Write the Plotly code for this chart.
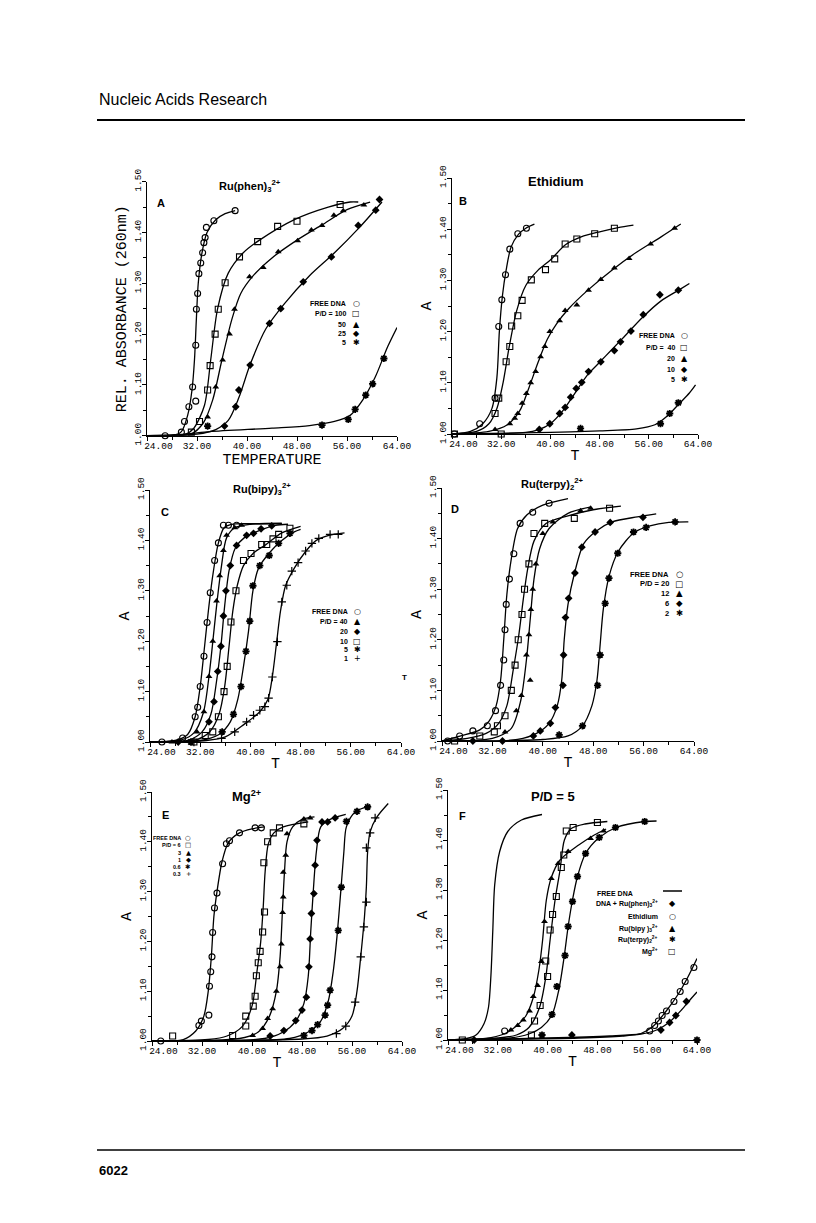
import plotly.graph_objects as go

# ---------------- DATA (temperature T in deg C, relative absorbance A) ----------------
# Panel A: Ru(phen)3 2+
A_FREE_T = [26.9, 29.5, 30.0, 30.7, 31.3, 31.8, 31.8, 31.9, 32.1, 32.3, 32.6, 32.9, 33.1, 33.3, 33.5, 34.7, 38.1]
A_FREE_A = [1.000, 1.007, 1.028, 1.057, 1.096, 1.068, 1.178, 1.249, 1.280, 1.319, 1.340, 1.360, 1.380, 1.390, 1.410, 1.423, 1.443]
A_FREE_FT = [24, 28, 29.5, 30.5, 31.2, 31.6, 31.9, 32.2, 32.8, 33.6, 35, 36.5, 38.1]
A_FREE_FA = [1.0, 1.0, 1.008, 1.04, 1.09, 1.15, 1.23, 1.30, 1.36, 1.40, 1.425, 1.437, 1.443]

A_100_T = [31.1, 32.4, 33.7, 34.1, 34.9, 35.4, 36.5, 38.8, 41.7, 44.9, 48.0, 54.9]
A_100_A = [1.007, 1.028, 1.090, 1.138, 1.200, 1.249, 1.301, 1.352, 1.382, 1.412, 1.422, 1.455]
A_100_FT = [24, 30, 31.5, 33.2, 34.2, 35.3, 37, 39.4, 42, 47.5, 53, 56.5, 57.8]
A_100_FA = [1.0, 1.002, 1.015, 1.06, 1.15, 1.25, 1.32, 1.36, 1.385, 1.425, 1.45, 1.46, 1.46]

A_50_T = [33.7, 35.0, 36.1, 37.2, 38.0, 40.4, 42.6, 45.0, 48.1, 50.3, 52.0, 53.9, 55.4, 58.7]
A_50_A = [1.037, 1.096, 1.149, 1.200, 1.249, 1.313, 1.331, 1.362, 1.384, 1.405, 1.414, 1.434, 1.443, 1.454]
A_50_FT = [24, 31, 33, 34.5, 36, 37.6, 39, 41, 44, 48, 52, 56, 59.7]
A_50_FA = [1.0, 1.003, 1.025, 1.07, 1.15, 1.23, 1.28, 1.315, 1.35, 1.385, 1.415, 1.445, 1.46]

A_25_T = [36.4, 38.2, 38.7, 40.5, 43.6, 45.4, 49.0, 53.5, 57.8, 60.6, 61.2]
A_25_A = [1.019, 1.057, 1.090, 1.139, 1.221, 1.250, 1.303, 1.352, 1.414, 1.444, 1.465]
A_25_FT = [24, 32, 35, 37, 38.7, 40.5, 43, 46, 50, 54, 58, 61.6]
A_25_FA = [1.0, 1.003, 1.012, 1.03, 1.075, 1.14, 1.21, 1.26, 1.315, 1.36, 1.41, 1.46]

A_5_T = [33.7, 52.0, 56.2, 57.3, 59.0, 60.1, 61.9]
A_5_A = [1.019, 1.021, 1.032, 1.052, 1.080, 1.102, 1.152]
A_5_FT = [24, 30, 34, 44, 50, 54, 56.5, 58.5, 60.5, 62.5, 64]
A_5_FA = [1.0, 1.003, 1.008, 1.015, 1.02, 1.028, 1.04, 1.07, 1.115, 1.175, 1.213]

# Panel B: Ethidium
B_FREE_T = [24.4, 28.5, 31.0, 31.6, 32.1, 32.7, 33.4, 34.7, 36.1]
B_FREE_A = [1.000, 1.020, 1.070, 1.210, 1.262, 1.311, 1.361, 1.391, 1.402]
B_FREE_FT = [24, 27, 29, 30.5, 31.3, 31.7, 32.2, 32.8, 33.6, 34.8, 36, 37.4]
B_FREE_FA = [1.0, 1.005, 1.02, 1.05, 1.11, 1.20, 1.27, 1.32, 1.365, 1.39, 1.402, 1.41]

B_40_T = [24.4, 32.0, 31.0, 31.6, 32.8, 33.4, 33.7, 34.7, 35.4, 36.9, 39.2, 40.7, 42.4, 44.3, 47.2, 50.4]
B_40_A = [1.000, 1.000, 1.040, 1.070, 1.141, 1.171, 1.211, 1.231, 1.261, 1.301, 1.321, 1.342, 1.371, 1.381, 1.391, 1.402]
B_40_FT = [24, 28, 30, 31.3, 32.3, 33.3, 34.5, 36, 38, 40, 42.5, 45, 48, 51, 53.5]
B_40_FA = [1.0, 1.005, 1.02, 1.05, 1.10, 1.17, 1.24, 1.29, 1.32, 1.34, 1.37, 1.385, 1.395, 1.403, 1.408]

B_20_T = [31.0, 33.4, 34.2, 34.7, 35.4, 36.1, 36.8, 37.6, 38.4, 39.1, 39.9, 41.5, 42.4, 44.3, 46.2, 48.2, 50.4, 52.8, 56.3, 60.2]
B_20_A = [1.009, 1.020, 1.031, 1.040, 1.060, 1.079, 1.100, 1.122, 1.151, 1.171, 1.200, 1.221, 1.241, 1.252, 1.281, 1.302, 1.324, 1.343, 1.371, 1.402]
B_20_FT = [24, 30, 33, 35, 36.5, 38, 39.5, 41, 43, 46, 50, 54, 58, 61.2]
B_20_FA = [1.0, 1.005, 1.018, 1.045, 1.09, 1.14, 1.185, 1.215, 1.245, 1.28, 1.32, 1.355, 1.385, 1.41]

B_10_T = [38.2, 39.9, 41.5, 42.4, 43.3, 44.2, 45.1, 46.2, 48.2, 50.4, 51.4, 53.1, 55.1, 57.8, 60.8]
B_10_A = [1.009, 1.020, 1.040, 1.052, 1.072, 1.089, 1.101, 1.122, 1.141, 1.163, 1.180, 1.201, 1.233, 1.272, 1.281]
B_10_FT = [24, 36, 38, 40, 42, 44, 46, 48, 50, 52, 55, 58, 61, 62.6]
B_10_FA = [1.0, 1.003, 1.008, 1.02, 1.045, 1.08, 1.115, 1.14, 1.165, 1.19, 1.228, 1.26, 1.282, 1.294]

B_5_T = [44.9, 57.9, 59.4, 60.8]
B_5_A = [1.011, 1.020, 1.040, 1.061]
B_5_FT = [24, 40, 48, 54, 57, 59, 61, 62.6, 63.6]
B_5_FA = [1.0, 1.003, 1.006, 1.01, 1.018, 1.035, 1.06, 1.08, 1.096]

# Panel C: Ru(bipy)3 2+
C_FREE_T = [25.9, 29.2, 31.2, 31.6, 32.0, 32.6, 33.1, 33.6, 34.3, 34.9, 35.7, 36.5, 37.8]
C_FREE_A = [1.000, 1.008, 1.050, 1.069, 1.110, 1.170, 1.237, 1.296, 1.360, 1.395, 1.430, 1.430, 1.430]
C_FREE_FT = [24, 28, 30, 31.2, 32.0, 32.7, 33.3, 34.0, 34.9, 35.8, 37, 41, 45]
C_FREE_FA = [1.0, 1.003, 1.015, 1.05, 1.11, 1.19, 1.26, 1.33, 1.395, 1.425, 1.432, 1.433, 1.433]

C_40_T = [27.5, 31.5, 32.6, 33.4, 34.0, 34.6, 35.1, 35.7, 36.2, 37.5, 38.6]
C_40_A = [1.000, 1.020, 1.060, 1.130, 1.200, 1.280, 1.330, 1.380, 1.410, 1.425, 1.430]
C_40_FT = [24, 29, 31, 32.5, 33.4, 34.1, 34.7, 35.4, 36.2, 37.5, 40, 45]
C_40_FA = [1.0, 1.004, 1.018, 1.058, 1.13, 1.21, 1.28, 1.35, 1.405, 1.425, 1.432, 1.434]

C_20_T = [28.5, 33.4, 34.2, 34.8, 35.3, 35.7, 36.1, 36.8, 37.8, 39.4, 40.5, 41.7, 43.4]
C_20_A = [1.000, 1.040, 1.080, 1.140, 1.190, 1.250, 1.300, 1.350, 1.390, 1.410, 1.414, 1.423, 1.429]
C_20_FT = [24, 30, 32.3, 33.7, 34.6, 35.3, 35.9, 36.6, 37.6, 39, 41.5, 44, 46]
C_20_FA = [1.0, 1.003, 1.02, 1.055, 1.12, 1.19, 1.27, 1.34, 1.385, 1.405, 1.42, 1.43, 1.432]

C_10_T = [31.0, 32.8, 34.0, 34.9, 35.8, 36.3, 36.9, 37.7, 38.9, 40.1, 41.8, 42.6, 43.6, 44.5, 46.3]
C_10_A = [1.000, 1.013, 1.020, 1.050, 1.100, 1.150, 1.238, 1.300, 1.360, 1.374, 1.392, 1.392, 1.403, 1.412, 1.424]
C_10_FT = [24, 31, 33.5, 35, 35.9, 36.6, 37.2, 37.9, 38.9, 40.5, 42.5, 45, 48]
C_10_FA = [1.0, 1.003, 1.02, 1.055, 1.11, 1.19, 1.26, 1.31, 1.35, 1.375, 1.392, 1.415, 1.428]

C_5_T = [30.5, 35.5, 37.3, 38.5, 39.3, 39.9, 40.4, 41.5, 43.0, 44.5, 46.3]
C_5_A = [1.000, 1.020, 1.055, 1.110, 1.180, 1.240, 1.310, 1.350, 1.370, 1.394, 1.414]
C_5_FT = [24, 32, 35, 36.8, 38, 38.9, 39.7, 40.4, 41.3, 43, 45, 47, 48]
C_5_FA = [1.0, 1.003, 1.015, 1.04, 1.085, 1.15, 1.22, 1.30, 1.345, 1.375, 1.40, 1.417, 1.422]

C_1_T = [31.0, 35.4, 37.5, 39.4, 40.5, 41.5, 42.3, 42.9, 43.5, 44.3, 45.0, 45.8, 46.6, 47.6, 48.8, 49.8, 50.9, 52.7, 54.0]
C_1_A = [1.000, 1.007, 1.020, 1.040, 1.053, 1.063, 1.070, 1.087, 1.129, 1.199, 1.278, 1.311, 1.339, 1.356, 1.379, 1.394, 1.404, 1.412, 1.412]
C_1_FT = [24, 33, 36, 39, 41.5, 42.8, 43.5, 44.2, 44.8, 45.6, 47, 48.8, 50.5, 52.5, 55]
C_1_FA = [1.0, 1.003, 1.01, 1.035, 1.06, 1.085, 1.13, 1.20, 1.26, 1.31, 1.345, 1.378, 1.40, 1.41, 1.415]

# Panel D: Ru(terpy)2 2+
D_FREE_T = [24.9, 26.8, 28.9, 31.2, 32.5, 33.3, 33.8, 34.0, 34.2, 34.7, 35.4, 36.4, 38.4, 41.0]
D_FREE_A = [1.000, 1.010, 1.020, 1.030, 1.060, 1.110, 1.160, 1.220, 1.270, 1.320, 1.370, 1.430, 1.452, 1.470]
D_FREE_FT = [24, 27, 30, 31.5, 32.6, 33.3, 33.8, 34.3, 35, 36, 37.5, 40, 44]
D_FREE_FA = [1.0, 1.01, 1.022, 1.04, 1.07, 1.12, 1.20, 1.29, 1.36, 1.42, 1.447, 1.466, 1.479]

D_20_T = [26.0, 30.0, 32.3, 32.8, 34.0, 35.0, 35.6, 36.1, 36.7, 37.1, 37.8, 38.6, 40.3, 45.0, 50.6]
D_20_A = [1.000, 1.010, 1.018, 1.030, 1.050, 1.100, 1.150, 1.200, 1.250, 1.300, 1.350, 1.410, 1.430, 1.440, 1.460]
D_20_FT = [24, 28, 31, 33, 34.3, 35.3, 36.2, 36.9, 37.6, 38.6, 40.5, 44, 48, 52.4]
D_20_FA = [1.0, 1.005, 1.015, 1.035, 1.07, 1.14, 1.21, 1.28, 1.34, 1.395, 1.43, 1.445, 1.457, 1.464]

D_12_T = [34.0, 35.8, 36.6, 37.4, 37.8, 38.1, 38.4, 38.9, 40.0, 41.6, 46.0, 47.6, 38.0]
D_12_A = [1.018, 1.060, 1.090, 1.170, 1.210, 1.260, 1.300, 1.350, 1.410, 1.433, 1.455, 1.460, 1.120]
D_12_FT = [24, 32, 35, 36.5, 37.4, 38.0, 38.6, 39.5, 41, 44, 47.5]
D_12_FA = [1.0, 1.005, 1.025, 1.08, 1.16, 1.24, 1.32, 1.38, 1.42, 1.45, 1.462]

D_6_T = [28.9, 33.6, 38.5, 39.6, 41.2, 42.0, 43.2, 43.3, 43.6, 44.1, 45.1, 46.2, 48.3, 50.7, 55.9]
D_6_A = [1.000, 1.000, 1.010, 1.020, 1.035, 1.066, 1.110, 1.170, 1.244, 1.282, 1.332, 1.383, 1.413, 1.432, 1.442]
D_6_FT = [24, 36, 39, 41, 42.3, 43.0, 43.4, 44, 45, 46.5, 48.5, 51, 55, 58]
D_6_FA = [1.0, 1.003, 1.015, 1.035, 1.07, 1.12, 1.20, 1.27, 1.33, 1.39, 1.415, 1.433, 1.443, 1.449]

D_2_T = [42.6, 46.3, 48.7, 49.1, 49.9, 50.5, 51.9, 54.4, 56.4, 61.0]
D_2_A = [1.012, 1.030, 1.110, 1.170, 1.272, 1.322, 1.371, 1.413, 1.422, 1.433]
D_2_FT = [24, 40, 44, 46.3, 47.8, 48.6, 49.1, 49.6, 50.5, 52, 54.5, 57, 60, 63.1]
D_2_FA = [1.0, 1.003, 1.01, 1.03, 1.07, 1.12, 1.19, 1.26, 1.325, 1.375, 1.412, 1.425, 1.432, 1.433]

# Panel E: Mg 2+
E_FREE_T = [25.4, 31.5, 31.9, 33.1, 33.2, 33.4, 33.6, 33.7, 34.0, 34.4, 35.3, 35.9, 36.4, 38.0, 40.5, 41.5]
E_FREE_A = [1.000, 1.031, 1.040, 1.052, 1.110, 1.139, 1.169, 1.218, 1.267, 1.297, 1.356, 1.396, 1.402, 1.418, 1.428, 1.428]
E_FREE_FT = [24, 29, 31, 32.3, 33.0, 33.5, 33.9, 34.4, 35.2, 36.2, 38, 40, 42]
E_FREE_FA = [1.0, 1.003, 1.02, 1.05, 1.10, 1.17, 1.25, 1.30, 1.36, 1.398, 1.418, 1.426, 1.43]

E_6_T = [27.3, 36.9, 39.0, 39.0, 40.2, 40.5, 40.7, 41.0, 41.3, 41.7, 42.0, 41.9, 42.5, 43.4, 44.4, 48.3]
E_6_A = [1.010, 1.011, 1.030, 1.050, 1.070, 1.090, 1.131, 1.157, 1.180, 1.219, 1.259, 1.358, 1.400, 1.418, 1.428, 1.436]
E_6_FT = [24, 33, 36, 38.5, 40.0, 40.8, 41.4, 41.8, 42.1, 42.6, 43.5, 45, 49]
E_6_FA = [1.0, 1.003, 1.01, 1.03, 1.07, 1.14, 1.20, 1.27, 1.34, 1.395, 1.418, 1.43, 1.44]

E_3_T = [40.1, 41.7, 42.5, 43.3, 43.9, 44.5, 44.7, 44.9, 45.0, 45.0, 45.4, 45.6, 48.3, 49.3]
E_3_A = [1.011, 1.025, 1.045, 1.065, 1.100, 1.149, 1.195, 1.258, 1.289, 1.339, 1.373, 1.416, 1.446, 1.448]
E_3_FT = [24, 38, 41, 42.8, 43.9, 44.5, 44.9, 45.2, 45.6, 46.5, 48, 50]
E_3_FA = [1.0, 1.005, 1.018, 1.05, 1.10, 1.17, 1.27, 1.34, 1.40, 1.43, 1.445, 1.45]

E_1_T = [42.9, 45.1, 47.0, 48.0, 48.7, 49.1, 49.3, 49.5, 49.9, 50.1, 50.4, 51.2, 52.1, 53.3]
E_1_A = [1.010, 1.021, 1.041, 1.062, 1.088, 1.149, 1.205, 1.256, 1.296, 1.353, 1.403, 1.440, 1.440, 1.448]
E_1_FT = [24, 42, 45, 47, 48.3, 49.0, 49.4, 49.8, 50.3, 51, 52.5, 55]
E_1_FA = [1.0, 1.005, 1.018, 1.04, 1.075, 1.13, 1.22, 1.30, 1.38, 1.43, 1.445, 1.455]

E_06_T = [48.3, 49.6, 50.5, 51.7, 52.1, 52.5, 53.8, 54.3, 55.1, 56.8, 58.5]
E_06_A = [1.011, 1.021, 1.033, 1.052, 1.072, 1.102, 1.222, 1.309, 1.441, 1.461, 1.470]
E_06_FT = [24, 46, 49, 51, 52.2, 53.0, 53.6, 54.2, 54.7, 55.1, 56.5, 59]
E_06_FA = [1.0, 1.005, 1.018, 1.04, 1.08, 1.14, 1.21, 1.30, 1.38, 1.43, 1.46, 1.472]

E_03_T = [53.5, 55.0, 56.5, 57.4, 57.9, 58.3, 58.3, 58.9, 59.7]
E_03_A = [1.015, 1.030, 1.078, 1.169, 1.229, 1.279, 1.388, 1.418, 1.448]
E_03_FT = [24, 48, 52, 54.5, 56, 56.8, 57.4, 58.0, 58.3, 58.5, 58.9, 60, 61.8]
E_03_FA = [1.0, 1.004, 1.01, 1.025, 1.05, 1.10, 1.17, 1.25, 1.31, 1.38, 1.42, 1.45, 1.477]

# Panel F: P/D = 5
F_FREE_FT = [24, 27, 28.5, 29.8, 30.5, 30.9, 31.2, 31.5, 32.3, 33.6, 35.8, 39.1]
F_FREE_FA = [1.0, 1.003, 1.01, 1.033, 1.065, 1.13, 1.22, 1.31, 1.377, 1.417, 1.44, 1.451]

F_PHEN_T = [28.2, 43.9, 58.2, 59.6, 60.6, 62.3]
F_PHEN_A = [1.000, 1.010, 1.020, 1.035, 1.049, 1.077]
F_PHEN_FT = [24, 40, 50, 55, 57.5, 59.5, 61.5, 63, 64]
F_PHEN_FA = [1.0, 1.004, 1.008, 1.012, 1.02, 1.035, 1.06, 1.082, 1.096]

F_ETH_T = [33.1, 56.4, 57.2, 57.8, 58.4, 59.1, 60.3, 61.3, 62.1, 63.5]
F_ETH_A = [1.018, 1.018, 1.029, 1.038, 1.049, 1.058, 1.077, 1.097, 1.117, 1.145]
F_ETH_FT = [24, 45, 52, 55, 57, 59, 61, 62.5, 64]
F_ETH_FA = [1.0, 1.004, 1.008, 1.013, 1.028, 1.057, 1.092, 1.125, 1.163]

F_BIPY_T = [34.1, 35.2, 36.1, 37.1, 37.7, 38.4, 39.0, 39.5, 40.6, 41.7, 43.3, 46.9, 49.0]
F_BIPY_A = [1.020, 1.029, 1.040, 1.058, 1.087, 1.109, 1.157, 1.237, 1.323, 1.353, 1.377, 1.403, 1.418]
F_BIPY_FT = [24, 30, 33, 35, 36.5, 37.7, 38.6, 39.2, 39.8, 40.6, 42, 45, 47.5, 49.4]
F_BIPY_FA = [1.0, 1.003, 1.012, 1.028, 1.048, 1.085, 1.14, 1.20, 1.28, 1.325, 1.36, 1.39, 1.41, 1.422]

F_TERPY_T = [39.1, 40.7, 41.5, 42.8, 43.3, 44.0, 44.8, 46.1, 48.3, 50.9, 55.6, 64.0]
F_TERPY_A = [1.010, 1.051, 1.107, 1.169, 1.227, 1.277, 1.327, 1.373, 1.405, 1.425, 1.437, 1.000]
F_TERPY_FT = [24, 34, 37, 39, 40.7, 41.8, 42.7, 43.3, 44, 44.8, 46.1, 48.3, 51, 55.6, 57.5]
F_TERPY_FA = [1.0, 1.004, 1.012, 1.025, 1.05, 1.10, 1.17, 1.227, 1.28, 1.327, 1.373, 1.405, 1.425, 1.437, 1.438]

F_MG_T = [26.3, 37.4, 37.9, 38.8, 40.0, 39.7, 40.4, 40.8, 41.4, 42.2, 42.6, 43.0, 44.1, 48.0]
F_MG_A = [1.000, 1.010, 1.038, 1.069, 1.127, 1.158, 1.220, 1.251, 1.287, 1.345, 1.370, 1.418, 1.425, 1.435]
F_MG_FT = [24, 32, 35, 37, 38.7, 39.7, 40.4, 41.2, 42.0, 42.7, 43.8, 46, 49.6]
F_MG_FA = [1.0, 1.004, 1.01, 1.025, 1.065, 1.125, 1.20, 1.28, 1.34, 1.40, 1.423, 1.432, 1.437]

X_TICKS = [24, 32, 40, 48, 56, 64]
Y_TICKS = [1.0, 1.1, 1.2, 1.3, 1.4, 1.5]

# ---------------- FIGURE ----------------
W, H = 816, 1223


def px(x):
    return x / W


def py(y):
    return 1 - y / H


MONO = "Liberation Mono, DejaVu Sans Mono, monospace"
SANS = "Liberation Sans, Arial, sans-serif"

SYMBOLS = {
    "o": dict(symbol="circle-open", size=6, line=dict(width=1.1, color="black")),
    "s": dict(symbol="square-open", size=6, line=dict(width=1.1, color="black")),
    "^": dict(symbol="triangle-up", size=6, line=dict(width=0, color="black")),
    "d": dict(symbol="diamond", size=6, line=dict(width=0, color="black")),
    "*": dict(symbol="asterisk-open", size=6, line=dict(width=1.8, color="black")),
    "+": dict(symbol="cross-thin-open", size=6, line=dict(width=1.2, color="black")),
}

# panel: (axis suffix, x-domain px, y-domain px)
PANELS = {
    "A": ("", (147, 397), (181.7, 435.7)),
    "B": ("2", (452, 698), (178, 434)),
    "C": ("3", (150, 401), (490, 742)),
    "D": ("4", (442, 694), (488, 741)),
    "E": ("5", (152, 402), (792, 1041)),
    "F": ("6", (448, 697), (790, 1040)),
}

fig = go.Figure()


def add_series(panel, fit_t, fit_a, pts_t=None, pts_a=None, sym=None):
    s = PANELS[panel][0]
    fig.add_trace(go.Scatter(x=fit_t, y=fit_a, mode="lines",
                             line=dict(color="black", width=1.3, shape="spline", smoothing=0.8),
                             xaxis="x" + s, yaxis="y" + s, showlegend=False, hoverinfo="skip"))
    if pts_t is not None:
        fig.add_trace(go.Scatter(x=pts_t, y=pts_a, mode="markers",
                                 marker=dict(color="black", **SYMBOLS[sym]),
                                 xaxis="x" + s, yaxis="y" + s, showlegend=False,
                                 cliponaxis=False))


add_series("A", A_FREE_FT, A_FREE_FA, A_FREE_T, A_FREE_A, "o")
add_series("A", A_100_FT, A_100_FA, A_100_T, A_100_A, "s")
add_series("A", A_50_FT, A_50_FA, A_50_T, A_50_A, "^")
add_series("A", A_25_FT, A_25_FA, A_25_T, A_25_A, "d")
add_series("A", A_5_FT, A_5_FA, A_5_T, A_5_A, "*")

add_series("B", B_FREE_FT, B_FREE_FA, B_FREE_T, B_FREE_A, "o")
add_series("B", B_40_FT, B_40_FA, B_40_T, B_40_A, "s")
add_series("B", B_20_FT, B_20_FA, B_20_T, B_20_A, "^")
add_series("B", B_10_FT, B_10_FA, B_10_T, B_10_A, "d")
add_series("B", B_5_FT, B_5_FA, B_5_T, B_5_A, "*")

add_series("C", C_FREE_FT, C_FREE_FA, C_FREE_T, C_FREE_A, "o")
add_series("C", C_40_FT, C_40_FA, C_40_T, C_40_A, "^")
add_series("C", C_20_FT, C_20_FA, C_20_T, C_20_A, "d")
add_series("C", C_10_FT, C_10_FA, C_10_T, C_10_A, "s")
add_series("C", C_5_FT, C_5_FA, C_5_T, C_5_A, "*")
add_series("C", C_1_FT, C_1_FA, C_1_T, C_1_A, "+")

add_series("D", D_FREE_FT, D_FREE_FA, D_FREE_T, D_FREE_A, "o")
add_series("D", D_20_FT, D_20_FA, D_20_T, D_20_A, "s")
add_series("D", D_12_FT, D_12_FA, D_12_T, D_12_A, "^")
add_series("D", D_6_FT, D_6_FA, D_6_T, D_6_A, "d")
add_series("D", D_2_FT, D_2_FA, D_2_T, D_2_A, "*")

add_series("E", E_FREE_FT, E_FREE_FA, E_FREE_T, E_FREE_A, "o")
add_series("E", E_6_FT, E_6_FA, E_6_T, E_6_A, "s")
add_series("E", E_3_FT, E_3_FA, E_3_T, E_3_A, "^")
add_series("E", E_1_FT, E_1_FA, E_1_T, E_1_A, "d")
add_series("E", E_06_FT, E_06_FA, E_06_T, E_06_A, "*")
add_series("E", E_03_FT, E_03_FA, E_03_T, E_03_A, "+")

add_series("F", F_FREE_FT, F_FREE_FA)
add_series("F", F_PHEN_FT, F_PHEN_FA, F_PHEN_T, F_PHEN_A, "d")
add_series("F", F_ETH_FT, F_ETH_FA, F_ETH_T, F_ETH_A, "o")
add_series("F", F_BIPY_FT, F_BIPY_FA, F_BIPY_T, F_BIPY_A, "^")
add_series("F", F_TERPY_FT, F_TERPY_FA, F_TERPY_T, F_TERPY_A, "*")
add_series("F", F_MG_FT, F_MG_FA, F_MG_T, F_MG_A, "s")

layout = dict(width=W, height=H, autosize=False,
              margin=dict(l=0, r=0, t=0, b=0, pad=0, autoexpand=False),
              paper_bgcolor="white", plot_bgcolor="white", showlegend=False)

x_text = ["\u00a0\u00a0\u00a0\u00a0%.2f" % X_TICKS[0]] + ["%.2f" % v for v in X_TICKS[1:]]
y_text = ["%.2f" % v for v in Y_TICKS]

for name, (s, (x0, x1), (y0, y1)) in PANELS.items():
    xt = "TEMPERATURE" if name == "A" else "T"
    yt = "REL. ABSORBANCE (260nm)" if name == "A" else "A"
    layout["xaxis" + s] = dict(
        domain=[px(x0), px(x1)], range=[24, 64], anchor="y" + s, automargin=False,
        tickmode="array", tickvals=X_TICKS, ticktext=x_text,
        ticks="outside", ticklen=4, tickwidth=1, tickcolor="black", ticklabelstandoff=-3,
        minor=dict(dtick=4, tick0=24, ticks="outside", ticklen=3, tickcolor="black"),
        showline=True, linecolor="black", linewidth=1, mirror=False,
        showgrid=False, zeroline=False,
        tickfont=dict(family=MONO, size=9.5, color="black"),
        title=dict(text=xt, font=dict(family=MONO, size=15, color="black"), standoff=0))
    layout["yaxis" + s] = dict(
        domain=[py(y1), py(y0)], range=[1.0, 1.5], anchor="x" + s, automargin=False,
        tickmode="array", tickvals=Y_TICKS, ticktext=y_text, tickangle=-90,
        ticks="outside", ticklen=4, tickwidth=1, tickcolor="black", ticklabelstandoff=-3,
        minor=dict(dtick=0.05, tick0=1.0, ticks="outside", ticklen=3, tickcolor="black"),
        showline=True, linecolor="black", linewidth=1,
        showgrid=False, zeroline=False,
        tickfont=dict(family=MONO, size=9.5, color="black"),
        title=dict(text=yt, font=dict(family=MONO, size=15, color="black"), standoff=2))

fig.update_layout(**layout)

ann = []


def text(x, y, t, size=8, bold=True, anchor="center", family=SANS):
    ann.append(dict(x=px(x), y=py(y), xref="paper", yref="paper", text=("<b>%s</b>" % t) if bold else t,
                    showarrow=False, xanchor=anchor, yanchor="middle",
                    font=dict(family=family, size=size, color="black")))


# header / footer
text(97, 100, "Nucleic Acids Research", size=16, bold=False, anchor="left")
text(97, 1170, "6022", size=13, bold=True, anchor="left")

# panel titles and letters
text(250, 186, "Ru(phen)<sub>3</sub><sup>2+</sup>", size=11)
text(556, 182, "Ethidium", size=13)
text(262, 489, "Ru(bipy)<sub>3</sub><sup>2+</sup>", size=11)
text(552, 484, "Ru(terpy)<sub>2</sub><sup>2+</sup>", size=11)
text(247, 796, "Mg<sup>2+</sup>", size=13)
text(553, 796, "P/D = 5", size=13)
for letter, (lx, ly) in {"A": (161, 203), "B": (463, 201), "C": (165, 512),
                         "D": (455, 509), "E": (165, 815), "F": (462, 816)}.items():
    text(lx, ly, letter, size=11)
text(404, 677, "T", size=8)

SYM_CHAR = {"o": "\u25cb", "s": "\u25a1", "^": "\u25b2", "d": "\u25c6", "*": "\u2731", "+": "+"}


def legend(xr, xs, ys, labels, syms, size=7, family=SANS):
    for y, lab, sm in zip(ys, labels, syms):
        text(xr, y, lab, size=size, anchor="right", family=family)
        text(xs, y, SYM_CHAR[sm], size=size + 1, bold=False, family="DejaVu Sans")


legend(348, 356, [303, 313.5, 324, 334, 343],
       ["FREE DNA", "P/D = 100", "50", "25", "5"], ["o", "s", "^", "d", "*"])
legend(677, 684, [336, 347, 358, 369, 380],
       ["FREE DNA", "P/D =  40", "20", "10", "5"], ["o", "s", "^", "d", "*"])
legend(350, 357, [611, 621, 631, 641, 649.5, 658],
       ["FREE DNA", "P/D = 40", "20", "10", "5", "1"], ["o", "^", "d", "s", "*", "+"])
legend(671, 679, [574, 583.5, 593, 603, 613],
       ["FREE DNA", "P/D = 20", "12", "6", "2"], ["o", "s", "^", "d", "*"], size=7.5)
legend(183, 188, [838, 845.3, 852.6, 859.9, 867.2, 874.5],
       ["FREE DNA", "P/D = 6", "3", "1", "0.6", "0.3"], ["o", "s", "^", "d", "*", "+"],
       size=5.5)
text(595, 893, "FREE DNA", size=7, anchor="left")
legend(660, 672, [903, 916, 928, 939, 951],
       ["DNA + Ru(phen)<sub>3</sub><sup>2+</sup>", "Ethidium", "Ru(bipy )<sub>3</sub><sup>2+</sup>",
        "Ru(terpy)<sub>2</sub><sup>2+</sup>", "Mg<sup>2+</sup>"], ["d", "o", "^", "*", "s"])

shapes = [
    dict(type="line", xref="paper", yref="paper", x0=px(97), x1=px(745), y0=py(120), y1=py(120),
         line=dict(color="black", width=2)),
    dict(type="line", xref="paper", yref="paper", x0=px(97), x1=px(745), y0=py(1150), y1=py(1150),
         line=dict(color="black", width=1.5)),
    dict(type="line", xref="paper", yref="paper", x0=px(663), x1=px(682), y0=py(891), y1=py(891),
         line=dict(color="black", width=1.5)),
]

fig.update_layout(annotations=ann, shapes=shapes)

fig.write_html("out.html", config={"displayModeBar": False},
               post_script="document.body.style.margin='0';")
